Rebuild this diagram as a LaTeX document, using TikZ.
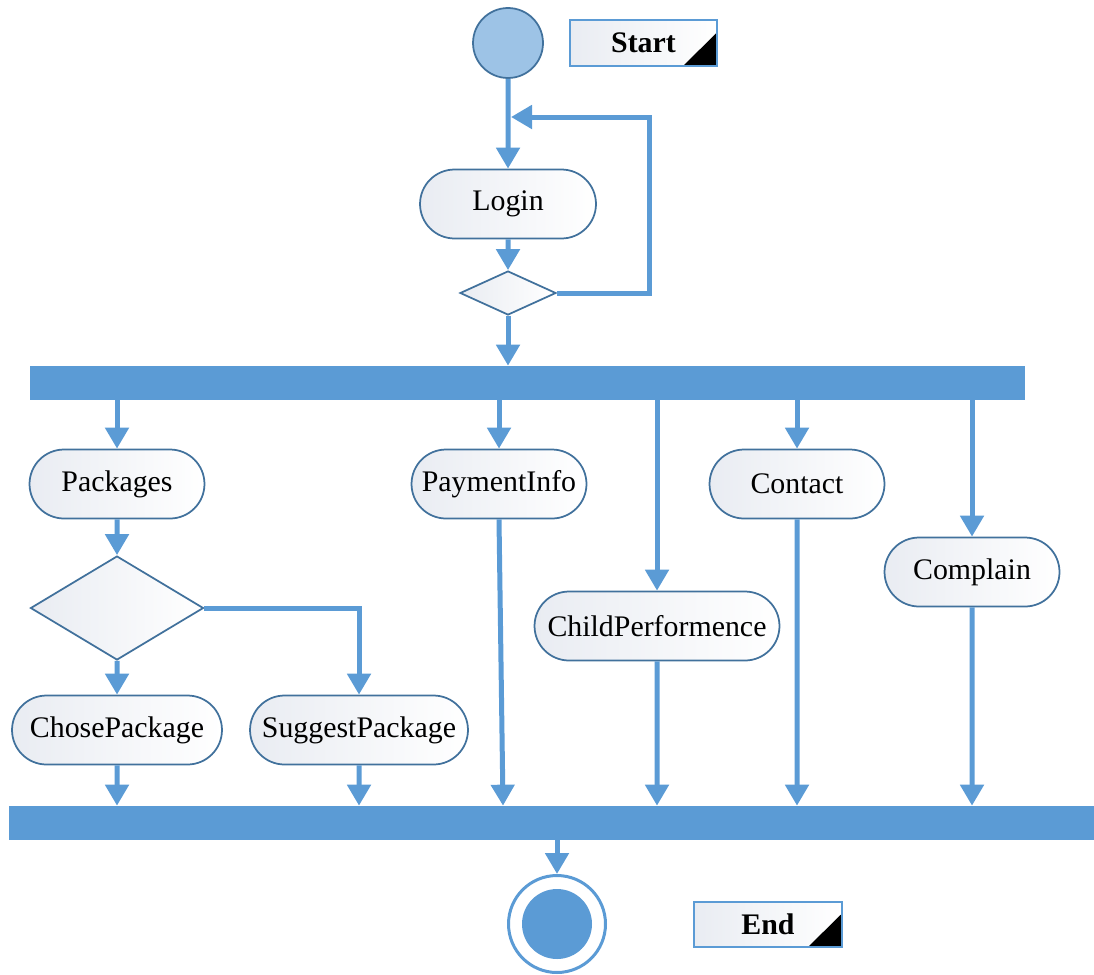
\documentclass[tikz,border=0pt]{standalone}
\usepackage{fontspec}
\setmainfont{Liberation Serif}
\usetikzlibrary{shapes.geometric,shapes.misc,arrows.meta,calc}
\definecolor{lineblue}{RGB}{91,155,213}
\definecolor{edgeblue}{RGB}{65,113,156}
\definecolor{startfill}{RGB}{157,195,230}
\definecolor{shadeg}{RGB}{233,236,242}
\tikzset{
  conn/.style={draw=lineblue, line width=0.1cm, -{Triangle[width=0.46cm,length=0.42cm]}},
  act/.style={draw=edgeblue, line width=0.035cm, rounded rectangle, left color=shadeg, right color=white,
    minimum height=1.38cm, inner sep=0pt, font=\fontsize{17}{20}\selectfont},
  dec/.style={diamond, draw=edgeblue, line width=0.035cm, left color=shadeg, right color=white, inner sep=0pt},
  bar/.style={fill=lineblue, inner sep=0pt, minimum height=0.68cm},
  lbl/.style={draw=lineblue, line width=0.035cm, left color=shadeg, right color=white, inner sep=0pt,
    font=\bfseries\fontsize{17}{20}\selectfont,
    path picture={\fill[black] (path picture bounding box.south east) -- ++(-0.68cm,0) -- ++(0.68cm,0.67cm) -- cycle;}}
}
\begin{document}
\begin{tikzpicture}[x=0.02cm,y=-0.02cm]
\useasboundingbox (0,0) rectangle (1094,974);
% start
\node[circle, draw=edgeblue, line width=0.035cm, fill=startfill, minimum size=1.4cm, inner sep=0pt] (start) at (508,43) {};
\node[lbl, minimum width=2.94cm, minimum height=0.92cm] (startlbl) at (643.5,43) {Start};
% login
\node[act, minimum width=3.52cm] (login) at (508,204) {Login};
\node[dec, minimum width=1.92cm, minimum height=0.88cm] (d1) at (508,293) {};
\coordinate (lr) at (649,117);
\coordinate (lj) at (511,117);
% bars
\node[bar, minimum width=19.9cm] (bar1) at (527.5,383) {};
\node[bar, minimum width=21.7cm] (bar2) at (551.5,823) {};
% activities
\node[act, minimum width=3.5cm] (pk) at (117,484) {Packages};
\node[act, minimum width=3.5cm] (pay) at (499,484) {PaymentInfo};
\node[act, minimum width=3.5cm] (con) at (797,484) {Contact};
\node[act, minimum width=3.5cm] (cmp) at (972,572) {Complain};
\node[act, minimum width=4.9cm] (ch) at (657,626) {ChildPerformence};
\node[dec, minimum width=3.46cm, minimum height=2.08cm] (d2) at (117,608) {};
\node[act, minimum width=4.2cm] (cp) at (117,730) {ChosePackage};
\node[act, minimum width=4.36cm] (sp) at (359,730) {SuggestPackage};
% end
\node[circle, draw=lineblue, line width=0.06cm, fill=white, minimum size=1.94cm, inner sep=0pt] (endc) at (557,924) {};
\node[circle, fill=lineblue, minimum size=1.4cm, inner sep=0pt] (endi) at (endc.center) {};
\node[lbl, minimum width=2.96cm, minimum height=0.9cm] (endlbl) at (768,924.5) {End};
% connectors
\draw[conn] (start) -- (login);
\draw[conn] (d1.east) -| (lr) -- (lj);
\draw[conn] (login) -- (d1);
\draw[conn] (d1) -- (d1.south |- bar1.north);
\draw[conn] (pk.north |- bar1.south) -- (pk.north);
\draw[conn] (pay.north |- bar1.south) -- (pay.north);
\draw[conn] (ch.north |- bar1.south) -- (ch.north);
\draw[conn] (con.north |- bar1.south) -- (con.north);
\draw[conn] (cmp.north |- bar1.south) -- (cmp.north);
\draw[conn] (pk) -- (d2);
\draw[conn] (d2) -- (cp);
\draw[conn] (d2.east) -| (sp.north);
\draw[conn] (cp) -- (cp.south |- bar2.north);
\draw[conn] (sp) -- (sp.south |- bar2.north);
\draw[conn] (pay.south) -- ([xshift=0.08cm]pay.south |- bar2.north);
\draw[conn] (ch) -- (ch.south |- bar2.north);
\draw[conn] (con) -- (con.south |- bar2.north);
\draw[conn] (cmp) -- (cmp.south |- bar2.north);
\draw[conn] (bar2.south -| endc.north) -- (endc.north);
\end{tikzpicture}
\end{document}
